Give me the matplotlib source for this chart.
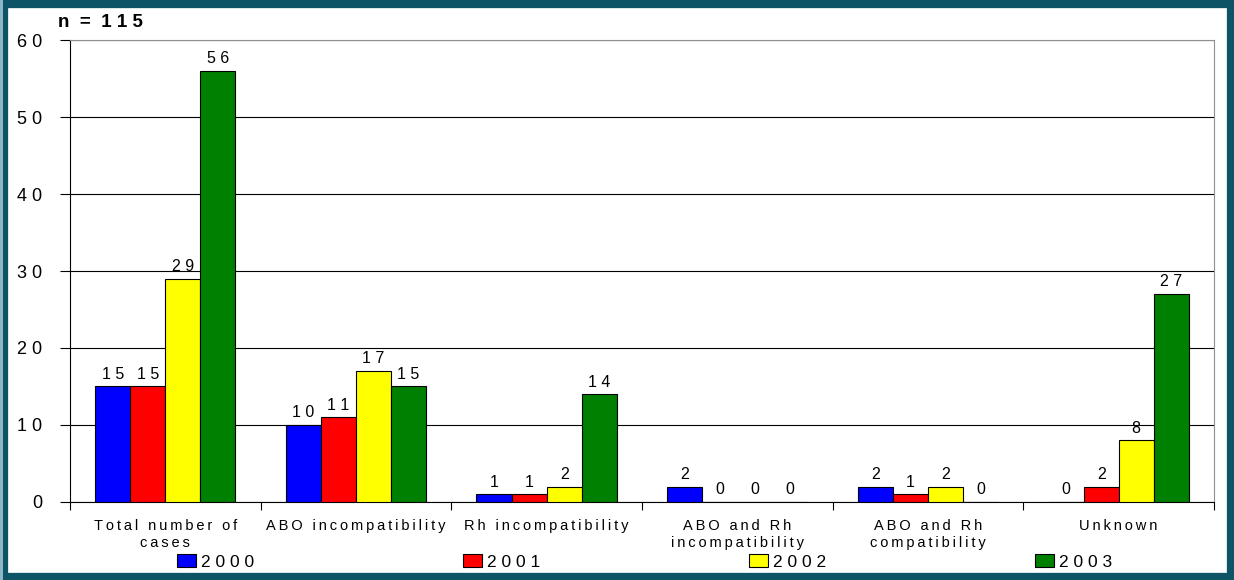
import numpy as np
import matplotlib
matplotlib.use('Agg')
import matplotlib.pyplot as plt
from matplotlib.patches import Rectangle

plt.rcParams['font.family'] = ['Liberation Sans', 'DejaVu Sans']

categorias = ['Total number of\ncases', 'ABO incompatibility', 'Rh incompatibility',
              'ABO and Rh\nincompatibility', 'ABO and Rh\ncompatibility', 'Unknown']
anos = ['2000', '2001', '2002', '2003']
v2000 = [15, 10, 1, 2, 2, 0]
v2001 = [15, 11, 1, 0, 1, 2]
v2002 = [29, 17, 2, 0, 2, 8]
v2003 = [56, 15, 14, 0, 0, 27]
cores = ['#0000FF', '#FF0000', '#FFFF00', '#008000']
yticks = [0, 10, 20, 30, 40, 50, 60]


def espacar(txt, sep=' '):
    linhas = []
    for linha in txt.split('\n'):
        linhas.append((sep + ' ' + sep).join(sep.join(p) for p in linha.split(' ')))
    return '\n'.join(linhas)


fig = plt.figure(figsize=(12.34, 5.8), dpi=100)
ax = fig.add_axes([0.0567, 0.1345, 0.9271, 0.7965])

x = np.arange(len(categorias))
largura = 0.184
series = [v2000, v2001, v2002, v2003]
for i, (serie, cor, ano) in enumerate(zip(series, cores, anos)):
    pos = x + (i - 1.5) * largura
    ax.bar(pos, serie, largura, color=cor, edgecolor='black', linewidth=0.8,
           label=espacar(ano), zorder=3)
    for p, v in zip(pos, serie):
        ax.text(p, v + 0.6, espacar(str(v)), ha='center', va='bottom', fontsize=11.5)

ax.set_xlim(-0.5, len(categorias) - 0.5)
ax.set_ylim(0, 60)
ax.set_yticks(yticks)
ax.set_yticklabels([espacar(str(t)) for t in yticks], fontsize=13)
ax.yaxis.grid(True, color='black', linewidth=0.8, zorder=0)
ax.set_axisbelow(True)

ax.set_xticks(np.arange(len(categorias) + 1) - 0.5, minor=False)
ax.set_xticklabels([])
ax.set_xticks(x, minor=True)
ax.set_xticklabels([espacar(c, '\u2009') for c in categorias], minor=True,
                   fontsize=10.5, linespacing=1.3)
ax.tick_params(axis='x', which='minor', length=0, pad=12)
ax.tick_params(axis='x', which='major', length=6, direction='out', width=0.8)
ax.tick_params(axis='y', length=7, direction='out', width=0.8, pad=13)

for s in ['top', 'right']:
    ax.spines[s].set_color('#909090')
ax.spines['left'].set_linewidth(0.8)
ax.spines['bottom'].set_linewidth(0.8)

fig.text(0.047, 0.962, 'n  =  1 1 5', fontsize=13.5, fontweight='bold', ha='left', va='center')

fig.legend(loc='lower left', bbox_to_anchor=(0.135, 0.0, 0.775, 0.06), mode='expand',
           ncol=4, frameon=False, fontsize=12.5, handlelength=1.1, handleheight=0.8,
           handletextpad=0.3, borderaxespad=0.2)

# moldura
fig.patches.append(Rectangle((0, 0), 1, 1, transform=fig.transFigure, fill=False,
                             edgecolor='#0D5466', linewidth=11, zorder=10))
fig.patches.append(Rectangle((0, 0), 0.0025, 1, transform=fig.transFigure,
                             facecolor='#8DB6C6', edgecolor='none', zorder=11))

fig.savefig('out.png', dpi=100)
